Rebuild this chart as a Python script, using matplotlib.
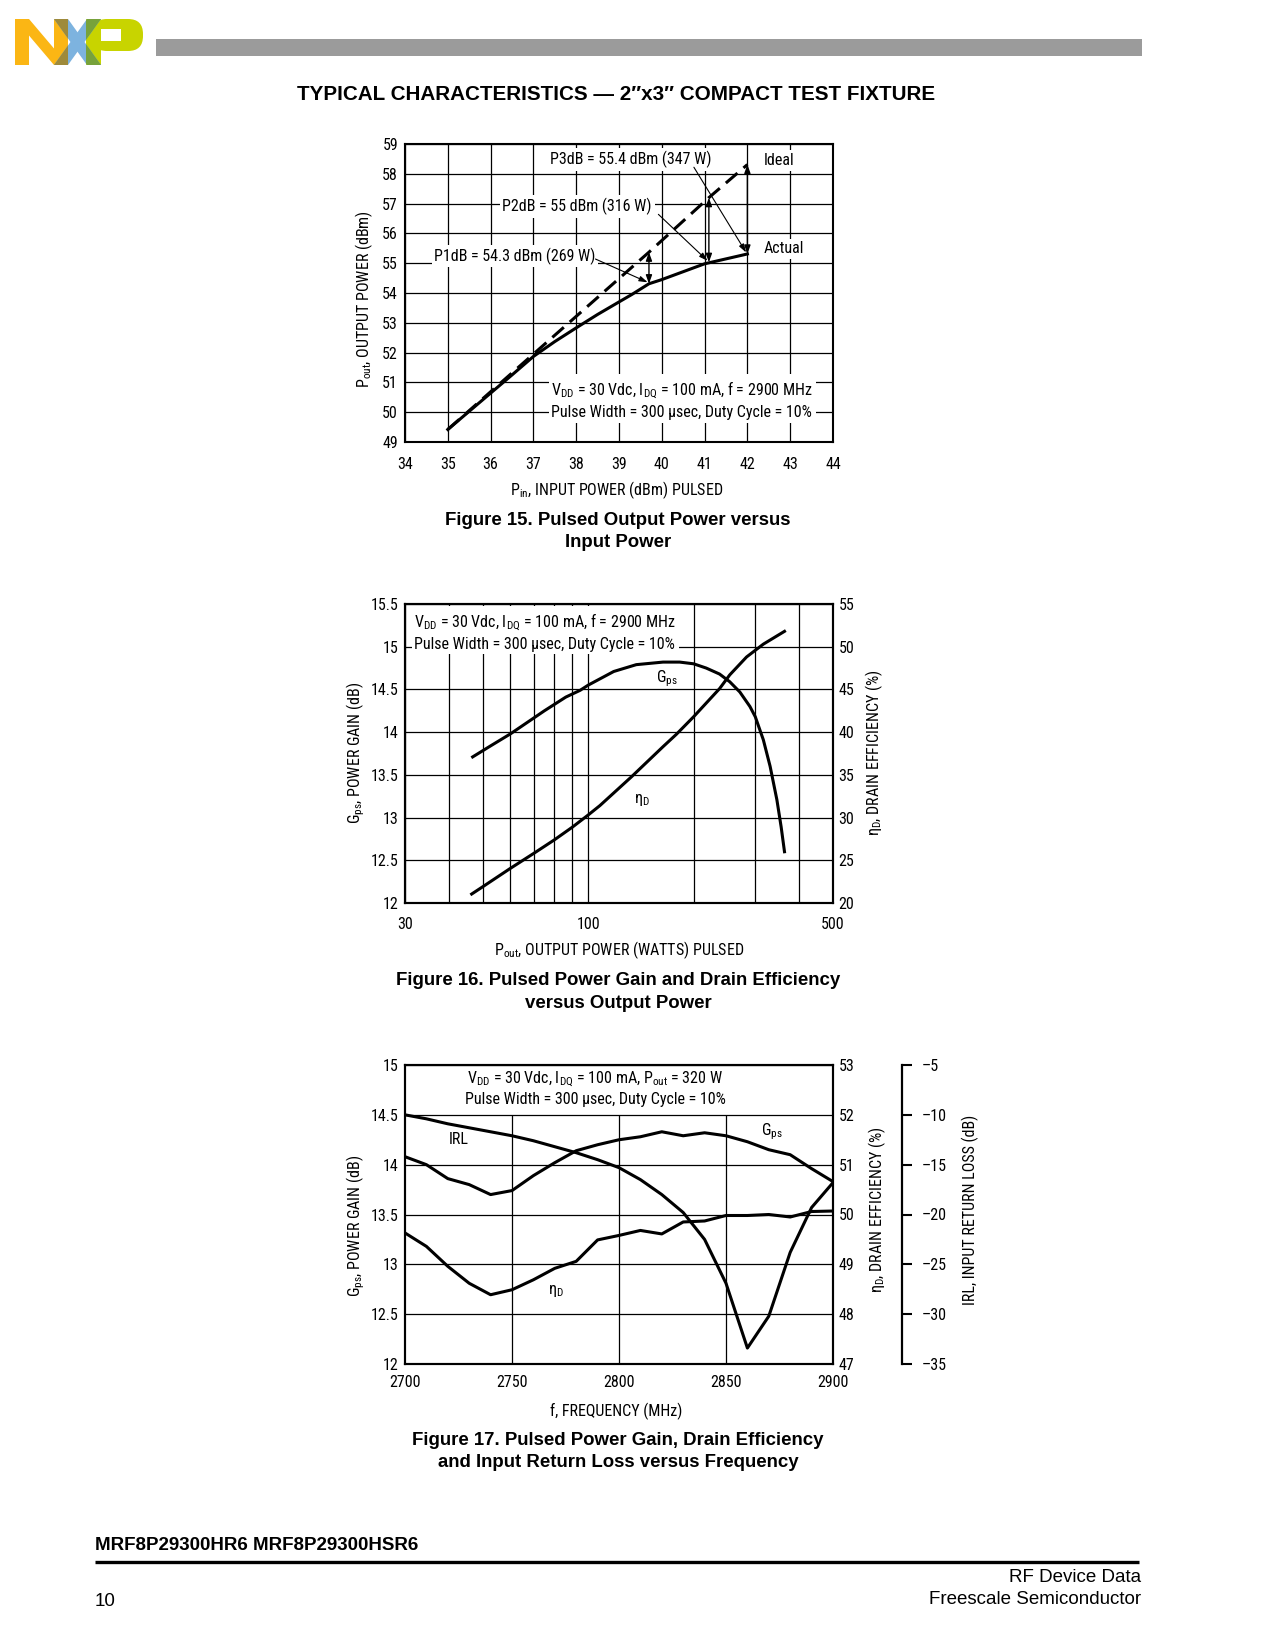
import matplotlib
matplotlib.use("Agg")
import matplotlib.pyplot as plt
from matplotlib import font_manager
from matplotlib.patches import Polygon, Rectangle, FancyBboxPatch
from matplotlib.ticker import FixedLocator, NullFormatter

W, H = 1275, 1650

# ---- Figure 15: pulsed output power vs input power
pin_actual = [35, 35.5, 36, 36.5, 37, 37.5, 38, 38.5, 39, 39.3, 39.7, 40, 41, 42]
pout_actual = [49.42, 50.03, 50.64, 51.25, 51.87, 52.37, 52.83, 53.28, 53.70,
               53.95, 54.31, 54.45, 54.98, 55.31]
pin_ideal = [35, 37, 39.7, 41.1, 42]
pout_ideal = [49.42, 51.95, 55.37, 57.20, 58.31]
comp_pin = [39.7, 41.1, 42]            # P1dB, P2dB, P3dB
comp_actual = [54.31, 55.03, 55.31]
comp_ideal = [55.37, 57.20, 58.31]
f15_xticks = list(range(34, 45))
f15_yticks = list(range(49, 60))

# ---- Figure 16: gain / efficiency vs output power
pout_w = [46.8, 52.7, 60, 75, 86.3, 94.9, 100, 118.3, 137.2, 163.6, 182.5, 200, 217.3,
          237.2, 253.6, 271, 289.6, 300, 316.3, 330.7, 345.7, 355.6, 363.5]
gps_16 = [13.71, 13.84, 13.98, 14.25, 14.41, 14.49, 14.55, 14.71, 14.79, 14.82, 14.82,
          14.80, 14.75, 14.68, 14.59, 14.47, 14.30, 14.18, 13.91, 13.60, 13.21, 12.89, 12.60]
eff_pout = [46.5, 50, 60, 70, 80, 90, 100, 108, 133, 163.6, 178.6, 200, 237.3, 253.6,
            283.3, 316.3, 363.5]
eff_16 = [21.05, 21.9, 24.06, 25.82, 27.38, 28.86, 30.3, 31.4, 34.78, 38.3, 39.75, 41.8,
          45.1, 46.7, 48.8, 50.3, 51.8]
f16_xticks = [30, 100, 500]
f16_xminor = [40, 50, 60, 70, 80, 90, 200, 300, 400]
f16_yticks = [12, 12.5, 13, 13.5, 14, 14.5, 15, 15.5]
f16_y2ticks = [20, 25, 30, 35, 40, 45, 50, 55]

# ---- Figure 17: gain / efficiency / IRL vs frequency
freq = [2700, 2710, 2720, 2730, 2740, 2750, 2760, 2770, 2780, 2790, 2800,
        2810, 2820, 2830, 2840, 2850, 2860, 2870, 2880, 2890, 2900]
gps_17 = [14.08, 14.00, 13.86, 13.80, 13.70, 13.74, 13.89, 14.02, 14.14, 14.20,
          14.25, 14.28, 14.33, 14.29, 14.32, 14.29, 14.23, 14.15, 14.10, 13.96, 13.83]
eff_17 = [49.63, 49.36, 48.96, 48.62, 48.39, 48.49, 48.69, 48.92, 49.06, 49.49,
          49.58, 49.68, 49.61, 49.85, 49.87, 49.98, 49.98, 50.00, 49.95, 50.06, 50.07]
irl_17 = [-10.0, -10.4, -10.9, -11.3, -11.7, -12.1, -12.6, -13.2, -13.8, -14.5,
          -15.3, -16.5, -18.0, -19.8, -22.5, -26.9, -33.4, -30.2, -23.8, -19.3, -16.8]
f17_xticks = [2700, 2750, 2800, 2850, 2900]
f17_yticks = [12, 12.5, 13, 13.5, 14, 14.5, 15]
f17_y2ticks = [47, 48, 49, 50, 51, 52, 53]
f17_y3ticks = [-35, -30, -25, -20, -15, -10, -5]

names = {f.name for f in font_manager.fontManager.ttflist}
NARROW = 'Liberation Sans'
for cand in ['Roboto Condensed', 'Archivo Narrow', 'PT Sans Narrow', 'Pragati Narrow',
             'Liberation Sans Narrow', 'Fira Sans Condensed', 'IBM Plex Sans Condensed']:
    if cand in names:
        NARROW = cand
        break
plt.rcParams['font.family'] = [NARROW, 'DejaVu Sans']
plt.rcParams['mathtext.fontset'] = 'custom'
plt.rcParams['mathtext.rm'] = NARROW
plt.rcParams['mathtext.it'] = NARROW
plt.rcParams['mathtext.bf'] = NARROW
BOLD = ['Liberation Sans', 'DejaVu Sans']
FS = 11.5
LW = 2.2

fig = plt.figure(figsize=(W / 100, H / 100), dpi=100)


def fx(x):
    return x / W


def fy(y):
    return 1 - y / H


# ---- page decoration
page = fig.add_axes([0, 0, 1, 1], zorder=-5)
page.set_xlim(0, W)
page.set_ylim(H, 0)
page.axis('off')
page.add_patch(Rectangle((156, 39), 986, 17, color='#9b9b9b', lw=0))
orange, blue, lime = '#fbb614', '#7db3df', '#c8d400'
page.add_patch(Rectangle((15, 19), 14, 46, color=orange, lw=0))
page.add_patch(Polygon([(15, 19), (29, 19), (68, 65), (54, 65)], color=orange, lw=0))
page.add_patch(Rectangle((54, 19), 14, 46, color=orange, lw=0))
page.add_patch(Rectangle((86, 19), 15, 46, color=lime, lw=0))
page.add_patch(FancyBboxPatch((92, 19), 51, 32, boxstyle='round,pad=0,rounding_size=15',
                              color=lime, lw=0))
page.add_patch(Rectangle((101, 29), 20, 12, color='white', lw=0))
arms = [[(54, 19), (68, 19), (101, 65), (87, 65)], [(87, 19), (101, 19), (68, 65), (54, 65)]]
for arm in arms:
    page.add_patch(Polygon(arm, color=blue, lw=0))
    clipN = Rectangle((54, 19), 14, 46, transform=page.transData)
    p = Polygon(arm, color='#9e8a3b', lw=0)
    page.add_patch(p)
    p.set_clip_path(clipN)
    clipP = Rectangle((86, 19), 15, 46, transform=page.transData)
    p = Polygon(arm, color='#77a23b', lw=0)
    page.add_patch(p)
    p.set_clip_path(clipP)

fig.text(fx(616), fy(95), 'TYPICAL CHARACTERISTICS \u2014 2\u2033x3\u2033 COMPACT TEST FIXTURE',
         ha='center', va='center', fontsize=14.9, fontweight='bold', family=BOLD)

captions = [(531.5, 'Figure 15. Pulsed Output Power versus\nInput Power'),
            (992, 'Figure 16. Pulsed Power Gain and Drain Efficiency\nversus Output Power'),
            (1451.5, 'Figure 17. Pulsed Power Gain, Drain Efficiency\nand Input Return Loss versus Frequency')]
for yc, txt in captions:
    fig.text(fx(618), fy(yc), txt, ha='center', va='center', fontsize=13.4,
             fontweight='bold', family=BOLD, linespacing=1.45)

fig.text(fx(95), fy(1545), 'MRF8P29300HR6 MRF8P29300HSR6', ha='left', va='center',
         fontsize=13.5, fontweight='bold', family=BOLD)
page.plot([95, 1139], [1562, 1562], color='k', lw=2.4, solid_capstyle='butt')
fig.text(fx(1141), fy(1578), 'RF Device Data', ha='right', va='center', fontsize=13.5, family=BOLD)
fig.text(fx(1141), fy(1600), 'Freescale Semiconductor', ha='right', va='center', fontsize=13.5,
         family=BOLD)
fig.text(fx(95), fy(1602), '10', ha='left', va='center', fontsize=13.5, family=BOLD)

box = dict(facecolor='white', edgecolor='none', pad=2)


def frame(ax):
    for s in ax.spines.values():
        s.set_linewidth(1.5)


# ---- Figure 15
ax1 = fig.add_axes([fx(405), fy(442), 428 / W, 298 / H])
ax1.set_axisbelow(True)
ax1.plot(pin_ideal, pout_ideal, color='k', lw=LW, dashes=(5, 2.6))
ax1.plot(pin_actual, pout_actual, color='k', lw=LW)
ax1.set_xlim(34, 44)
ax1.set_ylim(49, 59)
ax1.set_xticks(f15_xticks)
ax1.set_yticks(f15_yticks)
ax1.grid(True, color='k', lw=0.9)
ax1.tick_params(axis='x', length=0, labelsize=FS, pad=11)
ax1.tick_params(axis='y', length=0, labelsize=FS, pad=5)
frame(ax1)
for x, a, i in zip(comp_pin, comp_actual, comp_ideal):
    ax1.annotate('', xy=(x, i), xytext=(x, a),
                 arrowprops=dict(arrowstyle='<|-|>,head_length=0.5,head_width=0.18',
                                 color='k', lw=1.0, shrinkA=0, shrinkB=0))
labels15 = [('P1dB = 54.3 dBm (269 W)', (36.57, 55.24), (38.45, 55.14)),
            ('P2dB = 55 dBm (316 W)', (38.02, 56.90), (39.92, 56.64)),
            ('P3dB = 55.4 dBm (347 W)', (39.28, 58.48), (40.75, 58.22))]
for (txt, pos, start), x, a in zip(labels15, comp_pin, comp_actual):
    ax1.text(pos[0], pos[1], txt, ha='center', va='center', fontsize=FS, bbox=box)
    ax1.annotate('', xy=(x - 0.03, a + 0.05), xytext=start,
                 arrowprops=dict(arrowstyle='-|>,head_length=0.5,head_width=0.16',
                                 color='k', lw=0.8, shrinkA=0, shrinkB=0))
ax1.text(42.75, 58.45, 'Ideal', ha='center', va='center', fontsize=FS, bbox=box)
ax1.text(42.85, 55.48, 'Actual', ha='center', va='center', fontsize=FS, bbox=box)
ax1.text(37.42, 50.42, 'V$_{\\rm DD}$ = 30 Vdc, I$_{\\rm DQ}$ = 100 mA, f = 2900 MHz\n'
         'Pulse Width = 300 \u03bcsec, Duty Cycle = 10%', ha='left', va='center',
         fontsize=FS, bbox=box, linespacing=1.3)
fig.text(fx(364), fy(299), 'P$_{\\rm out}$, OUTPUT POWER (dBm)', rotation=90,
         ha='center', va='center', fontsize=FS)
fig.text(fx(617), fy(490), 'P$_{\\rm in}$, INPUT POWER (dBm) PULSED', ha='center',
         va='center', fontsize=FS)

# ---- Figure 16
ax2 = fig.add_axes([fx(405), fy(903), 428 / W, 299 / H])
ax2.set_axisbelow(True)
ax2.set_xscale('log')
ax2.set_xlim(30, 500)
ax2.set_ylim(12, 15.5)
ax2.xaxis.set_major_locator(FixedLocator(f16_xticks))
ax2.xaxis.set_minor_locator(FixedLocator(f16_xminor))
ax2.xaxis.set_minor_formatter(NullFormatter())
ax2.set_xticklabels([str(v) for v in f16_xticks])
ax2.set_yticks(f16_yticks)
ax2.set_yticklabels([f'{v:g}' for v in f16_yticks])
ax2.grid(True, which='both', color='k', lw=0.9)
ax2.tick_params(which='both', length=0, labelsize=FS)
ax2.tick_params(axis='x', pad=10)
ax2.tick_params(axis='y', pad=5)
ax2.plot(pout_w, gps_16, color='k', lw=LW)
frame(ax2)
ax2.text(31.9, 15.18, 'V$_{\\rm DD}$ = 30 Vdc, I$_{\\rm DQ}$ = 100 mA, f = 2900 MHz\n'
         'Pulse Width = 300 \u03bcsec, Duty Cycle = 10%', ha='left', va='center',
         fontsize=FS, bbox=box, linespacing=1.3)
ax2.text(168, 14.62, 'G$_{\\rm ps}$', ha='center', va='center', fontsize=FS)
ax2.text(142.5, 13.21, '\u03b7$_{\\rm D}$', ha='center', va='center', fontsize=FS)
ax2r = ax2.twinx()
ax2r.set_ylim(20, 55)
ax2r.set_yticks(f16_y2ticks)
ax2r.tick_params(length=0, labelsize=FS, pad=4)
ax2r.plot(eff_pout, eff_16, color='k', lw=LW)
frame(ax2r)
fig.text(fx(356), fy(753), 'G$_{\\rm ps}$, POWER GAIN (dB)', rotation=90,
         ha='center', va='center', fontsize=FS)
fig.text(fx(874), fy(753), '\u03b7$_{\\rm D}$, DRAIN EFFICIENCY (%)', rotation=90,
         ha='center', va='center', fontsize=FS)
fig.text(fx(619), fy(950), 'P$_{\\rm out}$, OUTPUT POWER (WATTS) PULSED', ha='center',
         va='center', fontsize=FS)

# ---- Figure 17
ax3 = fig.add_axes([fx(405), fy(1364), 428 / W, 299 / H])
ax3.set_axisbelow(True)
ax3.set_xlim(2700, 2900)
ax3.set_ylim(12, 15)
ax3.set_xticks(f17_xticks)
ax3.set_yticks(f17_yticks)
ax3.set_yticklabels([f'{v:g}' for v in f17_yticks])
ax3.grid(True, axis='y', color='k', lw=0.9)
ax3.vlines(f17_xticks[1:-1], 12, 14.5, color='k', lw=0.9, zorder=0.5)
ax3.tick_params(length=0, labelsize=FS)
ax3.tick_params(axis='x', pad=8)
ax3.tick_params(axis='y', pad=5)
ax3.plot(freq, gps_17, color='k', lw=LW)
frame(ax3)
ax3.text(2788.8, 14.77, 'V$_{\\rm DD}$ = 30 Vdc, I$_{\\rm DQ}$ = 100 mA, P$_{\\rm out}$ = 320 W\n'
         'Pulse Width = 300 \u03bcsec, Duty Cycle = 10%', ha='center', va='center',
         fontsize=FS, linespacing=1.3)
ax3.text(2725, 14.25, 'IRL', ha='center', va='center', fontsize=FS)
ax3.text(2871.5, 14.33, 'G$_{\\rm ps}$', ha='center', va='center', fontsize=FS)
ax3.text(2770.6, 12.73, '\u03b7$_{\\rm D}$', ha='center', va='center', fontsize=FS)
ax3r = ax3.twinx()
ax3r.set_ylim(47, 53)
ax3r.set_yticks(f17_y2ticks)
ax3r.tick_params(length=0, labelsize=FS, pad=4)
ax3r.plot(freq, eff_17, color='k', lw=LW)
frame(ax3r)
ax3i = ax3.twinx()
ax3i.set_ylim(-35, -5)
ax3i.set_yticks(f17_y3ticks)
ax3i.set_yticklabels([f'\u2013{abs(v)}' for v in f17_y3ticks])
for s in ['top', 'bottom', 'left']:
    ax3i.spines[s].set_visible(False)
ax3i.spines['right'].set_position(('outward', 50))
ax3i.spines['right'].set_linewidth(1.6)
ax3i.tick_params(direction='out', length=7, width=1.5, labelsize=FS, pad=7)
ax3i.plot(freq, irl_17, color='k', lw=LW)
fig.text(fx(356), fy(1226), 'G$_{\\rm ps}$, POWER GAIN (dB)', rotation=90,
         ha='center', va='center', fontsize=FS)
fig.text(fx(877), fy(1210), '\u03b7$_{\\rm D}$, DRAIN EFFICIENCY (%)', rotation=90,
         ha='center', va='center', fontsize=FS)
fig.text(fx(970), fy(1210), 'IRL, INPUT RETURN LOSS (dB)', rotation=90,
         ha='center', va='center', fontsize=FS)
fig.text(fx(616), fy(1411), 'f, FREQUENCY (MHz)', ha='center', va='center', fontsize=FS)

fig.savefig('out.png', dpi=100)
